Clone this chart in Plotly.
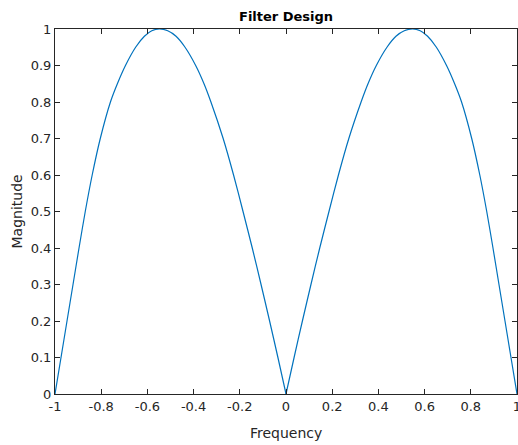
import plotly.graph_objects as go

# Frequency (normalized) and magnitude
freq = [-1.000, -0.974, -0.948, -0.922, -0.896, -0.869, -0.839, -0.804, -0.760, -0.730,
        -0.695, -0.651, -0.613, -0.581, -0.548, -0.512, -0.476, -0.437, -0.391, -0.355,
        -0.325, -0.272, -0.227, -0.186, -0.146, -0.108, -0.071, -0.035, 0.000,
        0.035, 0.071, 0.108, 0.146, 0.186, 0.227, 0.272, 0.325, 0.355, 0.391,
        0.437, 0.476, 0.512, 0.548, 0.581, 0.613, 0.651, 0.695, 0.730, 0.760,
        0.804, 0.839, 0.869, 0.896, 0.922, 0.948, 0.974, 1.000]
magnitude = [0.000, 0.100, 0.200, 0.300, 0.400, 0.500, 0.600, 0.700, 0.800, 0.850,
             0.900, 0.950, 0.980, 0.995, 1.000, 0.995, 0.980, 0.950, 0.900, 0.850,
             0.800, 0.700, 0.600, 0.500, 0.400, 0.300, 0.200, 0.100, 0.000,
             0.100, 0.200, 0.300, 0.400, 0.500, 0.600, 0.700, 0.800, 0.850, 0.900,
             0.950, 0.980, 0.995, 1.000, 0.995, 0.980, 0.950, 0.900, 0.850, 0.800,
             0.700, 0.600, 0.500, 0.400, 0.300, 0.200, 0.100, 0.000]

x_tickvals = [-1, -0.8, -0.6, -0.4, -0.2, 0, 0.2, 0.4, 0.6, 0.8, 1]
x_ticktext = ["-1", "-0.8", "-0.6", "-0.4", "-0.2", "0", "0.2", "0.4", "0.6", "0.8", "1"]
y_tickvals = [0, 0.1, 0.2, 0.3, 0.4, 0.5, 0.6, 0.7, 0.8, 0.9, 1]
y_ticktext = ["0", "0.1", "0.2", "0.3", "0.4", "0.5", "0.6", "0.7", "0.8", "0.9", "1"]

title_text = "Filter Design"
x_label = "Frequency"
y_label = "Magnitude"

axis_color = "#262626"
font_family = "DejaVu Sans"

# draw each lobe as its own smooth segment so the nulls stay sharp
null_idx = [i for i, m in enumerate(magnitude) if m == 0]
fig = go.Figure()
for a, b in zip(null_idx[:-1], null_idx[1:]):
    fig.add_trace(go.Scatter(x=freq[a:b + 1], y=magnitude[a:b + 1], mode="lines",
                             line=dict(color="#0072BD", width=1.2, shape="spline",
                                       smoothing=0.8),
                             showlegend=False, hoverinfo="skip"))

axis_common = dict(showgrid=False, zeroline=False, showline=True, linecolor=axis_color,
                   linewidth=1, mirror="ticks", ticks="inside", ticklen=5, tickwidth=1,
                   tickcolor=axis_color, tickmode="array", ticklabeloverflow="allow",
                   tickfont=dict(family=font_family, size=13, color=axis_color))

fig.update_layout(
    width=518, height=445,
    margin=dict(l=55, r=1, t=29, b=51, autoexpand=False),
    paper_bgcolor="white", plot_bgcolor="white",
    xaxis=dict(range=[-1, 1], tickvals=x_tickvals, ticktext=x_ticktext, **axis_common),
    yaxis=dict(range=[0, 1], tickvals=y_tickvals, ticktext=y_ticktext, **axis_common),
    annotations=[
        dict(text="<b>" + title_text + "</b>", xref="paper", yref="paper", x=0.5, y=1,
             xanchor="center", yanchor="middle", yshift=13, showarrow=False,
             font=dict(family=font_family, size=13, color="black")),
        dict(text=x_label, xref="paper", yref="paper", x=0.5, y=0,
             xanchor="center", yanchor="middle", yshift=-39, showarrow=False,
             font=dict(family=font_family, size=14, color=axis_color)),
        dict(text=y_label, xref="paper", yref="paper", x=0, y=0.5, textangle=-90,
             xanchor="center", yanchor="middle", xshift=-39, showarrow=False,
             font=dict(family=font_family, size=14, color=axis_color)),
    ],
)

fig.write_html("out.html")
